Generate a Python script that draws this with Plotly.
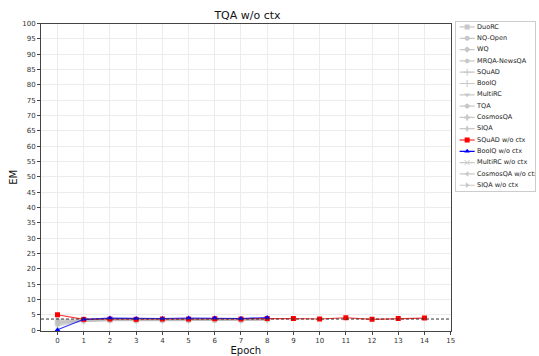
import plotly.graph_objects as go

# ---- data -------------------------------------------------------------
epochs_long = list(range(15))
epochs_short = list(range(9))

squad_noctx = [5.0, 3.5, 3.6, 3.5, 3.6, 3.6, 3.7, 3.6, 3.8, 3.8, 3.6, 4.0, 3.5, 3.8, 3.9]
boolq_noctx = [0.1, 3.5, 3.9, 3.8, 3.8, 3.9, 3.9, 3.8, 4.1]

gray_names = ["DuoRC", "NQ-Open", "WQ", "MRQA-NewsQA", "SQuAD", "BoolQ", "MultiRC",
              "TQA", "CosmosQA", "SIQA", "MultiRC w/o ctx", "CosmosQA w/o ctx", "SIQA w/o ctx"]
gray_values = {
    "DuoRC":            [2.2, 3.1, 3.3, 3.2, 3.3, 3.3, 3.3, 3.3, 3.5],
    "NQ-Open":          [3.3, 3.2, 3.4, 3.3, 3.4, 3.4, 3.5, 3.4, 3.6],
    "WQ":               [1.6, 3.0, 3.2, 3.1, 3.2, 3.2, 3.3, 3.2, 3.4],
    "MRQA-NewsQA":      [2.7, 3.1, 3.3, 3.2, 3.2, 3.3, 3.3, 3.3, 3.5],
    "SQuAD":            [3.0, 3.2, 3.3, 3.2, 3.3, 3.3, 3.4, 3.3, 3.5],
    "BoolQ":            [2.5, 3.0, 3.2, 3.1, 3.2, 3.2, 3.3, 3.2, 3.4],
    "MultiRC":          [1.9, 3.0, 3.2, 3.1, 3.1, 3.2, 3.2, 3.2, 3.4],
    "TQA":              [3.4, 3.3, 3.4, 3.3, 3.4, 3.4, 3.5, 3.4, 3.6],
    "CosmosQA":         [2.3, 3.1, 3.2, 3.1, 3.2, 3.2, 3.3, 3.2, 3.4],
    "SIQA":             [2.9, 3.1, 3.3, 3.2, 3.3, 3.3, 3.4, 3.3, 3.5],
    "MultiRC w/o ctx":  [1.3, 2.9, 3.1, 3.0, 3.1, 3.1, 3.2, 3.1, 3.3],
    "CosmosQA w/o ctx": [2.0, 3.0, 3.2, 3.1, 3.2, 3.2, 3.3, 3.2, 3.4],
    "SIQA w/o ctx":     [2.6, 3.1, 3.2, 3.1, 3.2, 3.2, 3.3, 3.2, 3.4],
}
baseline = 3.6

legend_names = ["DuoRC", "NQ-Open", "WQ", "MRQA-NewsQA", "SQuAD", "BoolQ", "MultiRC",
                "TQA", "CosmosQA", "SIQA", "SQuAD w/o ctx", "BoolQ w/o ctx",
                "MultiRC w/o ctx", "CosmosQA w/o ctx", "SIQA w/o ctx"]
legend_symbols = ["square", "circle", "diamond", "hexagon", "cross-thin-open", "line-ns-open",
                  "triangle-down", "octagon", "cross", "diamond-tall", "square", "triangle-up",
                  "x-thin-open", "triangle-left", "triangle-right"]

x_ticks = list(range(16))
y_ticks = list(range(0, 101, 5))

# ---- styling ----------------------------------------------------------
GRAY = "rgba(190,190,190,0.4)"
GRAY_LEG = "#c8c8c8"
RED = "#ff0000"
BLUE = "#0000ff"
FONT = "DejaVu Sans"
AX = "#444444"

gray_symbol = dict(zip(legend_names, legend_symbols))

fig = go.Figure()

for name in gray_names:
    sym = gray_symbol[name]
    open_sym = sym.endswith("-open")
    fig.add_trace(go.Scatter(
        x=epochs_short, y=gray_values[name], mode="lines+markers",
        line=dict(color=GRAY, width=1.5),
        marker=dict(symbol=sym, size=5, color=GRAY,
                    line=dict(color=GRAY, width=1 if open_sym else 0)),
        showlegend=False, xaxis="x", yaxis="y"))

fig.add_trace(go.Scatter(
    x=epochs_long, y=squad_noctx, mode="lines+markers",
    line=dict(color="rgba(255,0,0,0.8)", width=1.1),
    marker=dict(symbol="square", size=5, color=RED),
    showlegend=False, xaxis="x", yaxis="y"))
fig.add_trace(go.Scatter(
    x=epochs_short, y=boolq_noctx, mode="lines+markers",
    line=dict(color="rgba(0,0,255,0.8)", width=1.1),
    marker=dict(symbol="triangle-up", size=5, color=BLUE),
    showlegend=False, xaxis="x", yaxis="y"))

# dashed reference level across the whole axis
fig.add_shape(type="line", xref="x domain", yref="y", x0=0, x1=1, y0=baseline, y1=baseline,
              line=dict(color="#333333", width=1, dash="3px,2px"))

# ---- legend panel drawn on its own axes --------------------------------
for i, name in enumerate(legend_names):
    if name == "SQuAD w/o ctx":
        lc, mc = RED, RED
    elif name == "BoolQ w/o ctx":
        lc, mc = BLUE, BLUE
    else:
        lc, mc = GRAY_LEG, GRAY_LEG
    sym = legend_symbols[i]
    open_sym = sym.endswith("-open")
    fig.add_trace(go.Scatter(
        x=[0.05, 0.24], y=[i, i], mode="lines", line=dict(color=lc, width=1.2),
        showlegend=False, xaxis="x2", yaxis="y2", hoverinfo="skip"))
    fig.add_trace(go.Scatter(
        x=[0.145], y=[i], mode="markers",
        marker=dict(symbol=sym, size=5, color=mc, line=dict(color=mc, width=1 if open_sym else 0)),
        showlegend=False, xaxis="x2", yaxis="y2", hoverinfo="skip"))

fig.add_trace(go.Scatter(
    x=[0.27] * len(legend_names), y=list(range(len(legend_names))), mode="text",
    text=legend_names, textposition="middle right",
    textfont=dict(family=FONT, size=6.5, color="#222222"),
    showlegend=False, xaxis="x2", yaxis="y2", hoverinfo="skip"))

W, H = 539, 356
ML, MR, MT, MB = 41, 0, 20, 25
pw, ph = W - ML - MR, H - MT - MB

fig.update_layout(
    width=W, height=H,
    margin=dict(l=ML, r=MR, t=MT, b=MB),
    paper_bgcolor="white", plot_bgcolor="white",
    font=dict(family=FONT, size=7, color="#222222"),
    title=dict(text="TQA w/o ctx", x=247.5 / W, xanchor="center",
               y=1 - 15 / H, yanchor="middle", font=dict(family=FONT, size=11, color="#111111")),
    xaxis=dict(domain=[0, (454 - ML) / pw], range=[-0.63, 15], tickvals=x_ticks,
               ticktext=[str(v) for v in x_ticks],
               showgrid=True, gridcolor="#ececec", gridwidth=0.8, zeroline=False,
               showline=True, linecolor=AX, linewidth=1, mirror=True,
               ticks="outside", ticklen=3, tickcolor=AX, tickfont=dict(size=7, color="#333333"),
               title=dict(text="Epoch", font=dict(size=10, color="#111111"), standoff=3)),
    yaxis=dict(domain=[0, 1 - (23.5 - MT) / ph], range=[-0.3, 100], tickvals=y_ticks,
               ticktext=[str(v) for v in y_ticks],
               showgrid=True, gridcolor="#ececec", gridwidth=0.8, zeroline=False,
               showline=True, linecolor=AX, linewidth=1, mirror=True,
               ticks="outside", ticklen=3, tickcolor=AX, tickfont=dict(size=7, color="#333333"),
               title=dict(text="EM", font=dict(size=10, color="#111111"), standoff=2)),
    xaxis2=dict(domain=[(459 - ML) / pw, 1], range=[0, 1], visible=True, showgrid=False,
                zeroline=False, showticklabels=False, ticks="", showline=True,
                linecolor="#cccccc", linewidth=1, mirror=True, anchor="y2", fixedrange=True),
    yaxis2=dict(domain=[(H - MB - 191) / ph, 1 - (22 - MT) / ph], range=[14.51, -0.44],
                showgrid=False, zeroline=False, showticklabels=False, ticks="", showline=True,
                linecolor="#cccccc", linewidth=1, mirror=True, anchor="x2", fixedrange=True),
)

fig.write_html("out.html")
